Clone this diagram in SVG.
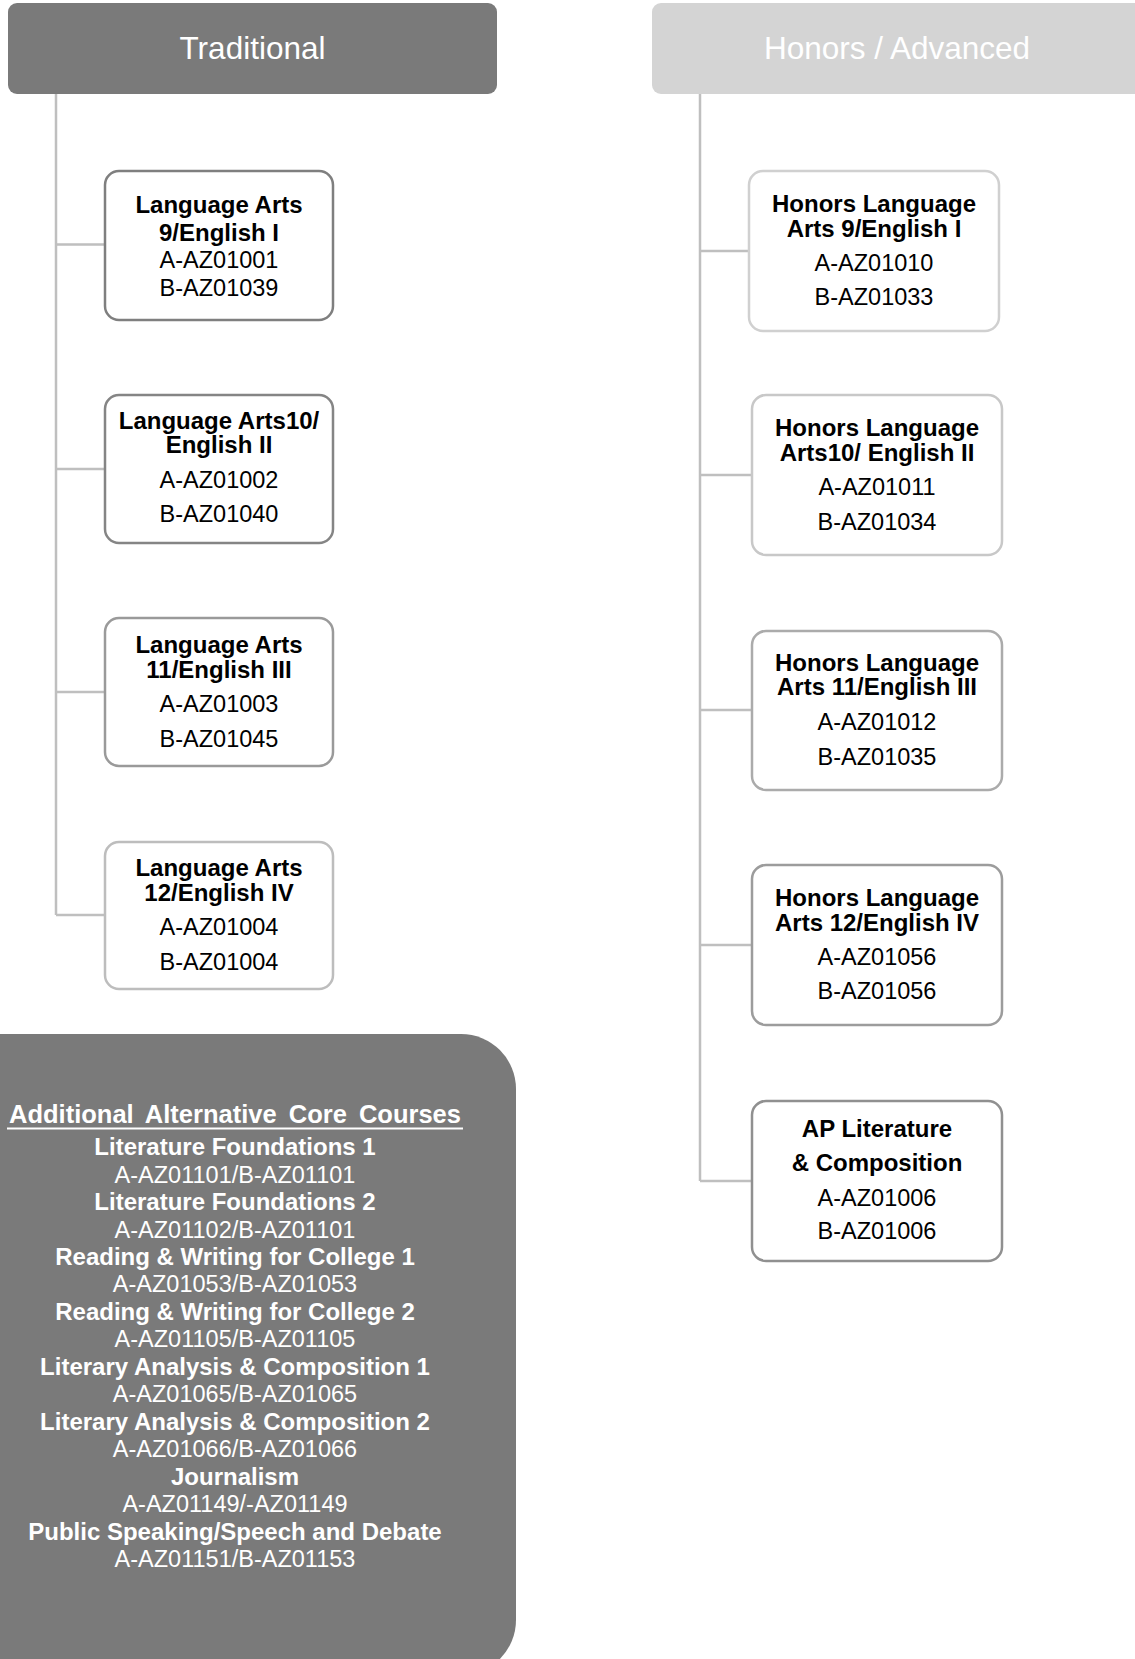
<svg xmlns="http://www.w3.org/2000/svg" width="1135" height="1659" viewBox="0 0 1135 1659">
<style>
.hdr{font-family:"Liberation Sans",Arial,sans-serif;font-size:31.5px;fill:#ffffff;text-anchor:middle}
.t{font-family:"Liberation Sans",Arial,sans-serif;text-anchor:middle;fill:#000000}
.b{font-weight:bold;font-size:24px}
.r{font-size:23.5px}
.box{fill:#ffffff;stroke-width:2.5}
.conn{stroke:#bfbfbf;stroke-width:2.5;fill:none}
.p{font-family:"Liberation Sans",Arial,sans-serif;text-anchor:middle;fill:#ffffff}
</style>
<rect width="1135" height="1659" fill="#ffffff"/>
<g id="connectors">
<path class="conn" d="M56 94 V915 M56 244.5 H105 M56 469 H105 M56 692 H105 M56 915 H105"/>
<path class="conn" d="M700 94 V1181 M700 251 H749 M700 475 H752 M700 710 H752 M700 945 H752 M700 1181 H752"/>
</g>
<g id="header-traditional">
<rect x="8" y="3" width="489" height="91" rx="9" fill="#7a7a7a"/>
<text class="hdr" x="252.5" y="59">Traditional</text>
</g>
<g id="header-honors">
<rect x="652" y="3" width="500" height="91" rx="9" fill="#d4d4d4"/>
<text class="hdr" x="897" y="59">Honors / Advanced</text>
</g>
<g id="trad-1">
<rect class="box" x="105" y="171" width="228" height="149" rx="14" stroke="#7f7f7f"/>
<text class="t b" x="219" y="213">Language Arts</text>
<text class="t b" x="219" y="240.5">9/English I</text>
<text class="t r" x="219" y="268">A-AZ01001</text>
<text class="t r" x="219" y="296">B-AZ01039</text>
</g>
<g id="trad-2">
<rect class="box" x="105" y="395" width="228" height="148" rx="14" stroke="#858585"/>
<text class="t b" x="219" y="429">Language Arts10/</text>
<text class="t b" x="219" y="453">English II</text>
<text class="t r" x="219" y="488">A-AZ01002</text>
<text class="t r" x="219" y="522">B-AZ01040</text>
</g>
<g id="trad-3">
<rect class="box" x="105" y="618" width="228" height="148" rx="14" stroke="#9a9a9a"/>
<text class="t b" x="219" y="653">Language Arts</text>
<text class="t b" x="219" y="678">11/English III</text>
<text class="t r" x="219" y="712">A-AZ01003</text>
<text class="t r" x="219" y="747">B-AZ01045</text>
</g>
<g id="trad-4">
<rect class="box" x="105" y="842" width="228" height="147" rx="14" stroke="#bdbdbd"/>
<text class="t b" x="219" y="876">Language Arts</text>
<text class="t b" x="219" y="901">12/English IV</text>
<text class="t r" x="219" y="935">A-AZ01004</text>
<text class="t r" x="219" y="970">B-AZ01004</text>
</g>
<g id="hon-1">
<rect class="box" x="749" y="171" width="250" height="160" rx="14" stroke="#d0d0d0"/>
<text class="t b" x="874" y="212">Honors Language</text>
<text class="t b" x="874" y="237">Arts 9/English I</text>
<text class="t r" x="874" y="271">A-AZ01010</text>
<text class="t r" x="874" y="305">B-AZ01033</text>
</g>
<g id="hon-2">
<rect class="box" x="752" y="395" width="250" height="160" rx="14" stroke="#c8c8c8"/>
<text class="t b" x="877" y="436">Honors Language</text>
<text class="t b" x="877" y="460.5">Arts10/ English II</text>
<text class="t r" x="877" y="495">A-AZ01011</text>
<text class="t r" x="877" y="530">B-AZ01034</text>
</g>
<g id="hon-3">
<rect class="box" x="752" y="631" width="250" height="159" rx="14" stroke="#ababab"/>
<text class="t b" x="877" y="671">Honors Language</text>
<text class="t b" x="877" y="695">Arts 11/English III</text>
<text class="t r" x="877" y="730">A-AZ01012</text>
<text class="t r" x="877" y="765">B-AZ01035</text>
</g>
<g id="hon-4">
<rect class="box" x="752" y="865" width="250" height="160" rx="14" stroke="#9c9c9c"/>
<text class="t b" x="877" y="906">Honors Language</text>
<text class="t b" x="877" y="930.5">Arts 12/English IV</text>
<text class="t r" x="877" y="965">A-AZ01056</text>
<text class="t r" x="877" y="999">B-AZ01056</text>
</g>
<g id="hon-5">
<rect class="box" x="752" y="1101" width="250" height="160" rx="14" stroke="#909090"/>
<text class="t b" x="877" y="1137">AP Literature</text>
<text class="t b" x="877" y="1171">&amp; Composition</text>
<text class="t r" x="877" y="1206">A-AZ01006</text>
<text class="t r" x="877" y="1239">B-AZ01006</text>
</g>
<g id="alternative-courses">
<rect x="-60" y="1034" width="576" height="641" rx="55" fill="#7a7a7a"/>
<text class="p b" x="235" y="1123" style="font-size:25.5px;word-spacing:5px">Additional Alternative Core Courses</text>
<line x1="7" y1="1128.5" x2="463" y2="1128.5" stroke="#ffffff" stroke-width="2"/>
<text class="p b" x="235" y="1155">Literature Foundations 1</text>
<text class="p r" x="235" y="1182.5">A-AZ01101/B-AZ01101</text>
<text class="p b" x="235" y="1210">Literature Foundations 2</text>
<text class="p r" x="235" y="1237.5">A-AZ01102/B-AZ01101</text>
<text class="p b" x="235" y="1265">Reading &amp; Writing for College 1</text>
<text class="p r" x="235" y="1292">A-AZ01053/B-AZ01053</text>
<text class="p b" x="235" y="1320">Reading &amp; Writing for College 2</text>
<text class="p r" x="235" y="1347">A-AZ01105/B-AZ01105</text>
<text class="p b" x="235" y="1375">Literary Analysis &amp; Composition 1</text>
<text class="p r" x="235" y="1402">A-AZ01065/B-AZ01065</text>
<text class="p b" x="235" y="1430">Literary Analysis &amp; Composition 2</text>
<text class="p r" x="235" y="1457">A-AZ01066/B-AZ01066</text>
<text class="p b" x="235" y="1485">Journalism</text>
<text class="p r" x="235" y="1512">A-AZ01149/-AZ01149</text>
<text class="p b" x="235" y="1540">Public Speaking/Speech and Debate</text>
<text class="p r" x="235" y="1567">A-AZ01151/B-AZ01153</text>
</g>
</svg>
